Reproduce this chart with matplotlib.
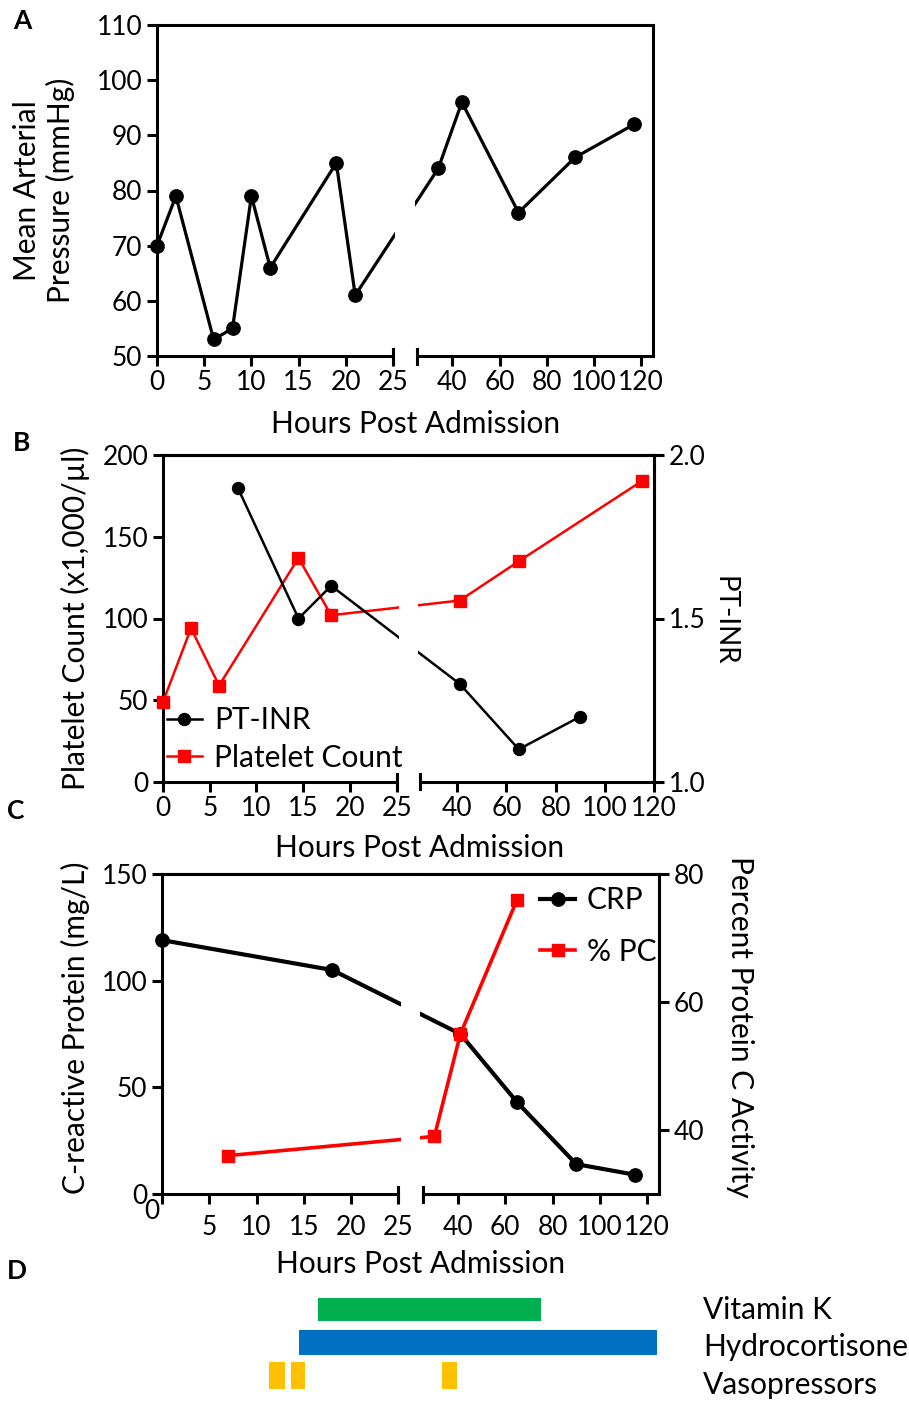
import numpy as np
import matplotlib
matplotlib.use("Agg")
import matplotlib.pyplot as plt
from matplotlib.patches import Rectangle
from matplotlib.transforms import ScaledTranslation

# ---------------- data ----------------
map_hours = [0, 2, 6, 8, 10, 12, 19, 21, 34, 44, 68, 92, 117]
map_mmhg = [70, 79, 53, 55, 79, 66, 85, 61, 84, 96, 76, 86, 92]

platelet_hours = [0, 3, 6, 14.5, 18, 41, 65, 115]
platelet_count = [49, 94, 59, 137, 102, 111, 135, 184]
inr_hours = [8, 14.5, 18, 41, 65, 90]
inr_values = [1.9, 1.5, 1.6, 1.3, 1.1, 1.2]

crp_hours = [0, 18, 41, 65, 90, 115]
crp_values = [119, 105, 75, 43, 14, 9]
pc_hours = [7, 30, 41, 65]
pc_values = [36, 39, 55, 76]

treatments = ["Vitamin K", "Hydrocortisone", "Vasopressors"]
treatment_spans = [
    [(16.5, 75)],
    [(14.5, 124)],
    [(11.3, 13.0), (13.6, 15.1), (33.4, 39.5)],
]

hour_ticks = [0, 5, 10, 15, 20, 25, 40, 60, 80, 100, 120]

# ---------------- style ----------------
plt.rcParams["font.family"] = ["Lato", "DejaVu Sans"]
FS = 21.5      # axis labels, legends, treatment names
TFS = 19       # tick labels
SPINE_LW = 2.2
RED = "#FF0000"
TREAT_COLORS = ["#00B050", "#0070C0", "#FFC000"]
BAR_HEIGHTS = [0.67, 0.73, 0.82]

W, H = 909, 1401
fig = plt.figure(figsize=(W / 100, H / 100), dpi=100)

GAP = 2.55  # width of the axis break, in left-segment hour units


def broken_scale(right_end):
    k = 25.0 / (right_end - 25.0)

    def fwd(x):
        x = np.asarray(x, dtype=float)
        return np.where(x <= 25, x, 25 + GAP + (x - 25) * k)

    def inv(t):
        t = np.asarray(t, dtype=float)
        return np.where(t <= 25, t,
                        np.where(t < 25 + GAP, 25.0, 25 + (t - 25 - GAP) / k))
    return fwd, inv


def px_axes(left, right, top, bottom):
    return fig.add_axes([left / W, 1 - bottom / H, (right - left) / W, (bottom - top) / H])


def setup_hours_axis(ax, right_end, top_ax=None, xpad=3):
    ax.set_xscale("function", functions=broken_scale(right_end))
    ax.set_xlim(0, right_end)
    ax.set_xticks(hour_ticks)
    ax.set_xticklabels([str(h) for h in hour_ticks])
    for sp in ax.spines.values():
        sp.set_linewidth(SPINE_LW)
    ax.spines["bottom"].set_visible(False)
    ax.tick_params(direction="out", length=7, width=SPINE_LW, labelsize=TFS, pad=3.5)
    ax.tick_params(axis="x", pad=xpad)

    total = 50 + GAP
    f1, f2 = 25 / total, (25 + GAP) / total
    tr = ax.transAxes
    h_px = ax.get_position().height * H
    w_px = ax.get_position().width * W
    cap = 7.5 / h_px
    kw = dict(transform=tr, color="black", lw=SPINE_LW, clip_on=False,
              solid_capstyle="projecting", zorder=4)
    ax.plot([0, f1], [0, 0], **kw)
    ax.plot([f2, 1], [0, 0], **kw)
    ax.plot([f1, f1], [-cap, cap], **kw)
    ax.plot([f2, f2], [-cap, cap], **kw)

    # blank out data lines inside the break
    tgt = top_ax if top_ax is not None else ax
    m = 2.5 / w_px
    tgt.add_patch(Rectangle((f1 + m, 0), (f2 - f1) - 2 * m, 1, transform=tgt.transAxes,
                            facecolor="white", edgecolor="none", zorder=3.5))
    tgt.spines["top"].set_zorder(4)


def style_label(lbl, rotation=90, size=FS):
    lbl.set_rotation(rotation)
    lbl.set_va("center")
    lbl.set_ha("center")
    lbl.set_fontsize(size)


def style_right_axis(ax2):
    ax2.spines["left"].set_visible(False)
    ax2.spines["bottom"].set_visible(False)
    for sp in ax2.spines.values():
        sp.set_linewidth(SPINE_LW)
    ax2.tick_params(direction="out", length=7, width=SPINE_LW, labelsize=TFS, pad=3.5)


# ---------------- Panel A ----------------
axA = px_axes(157, 653, 25, 356)
axA.plot(map_hours, map_mmhg, color="black", lw=2.3, marker="o", ms=9.6,
         clip_on=False, zorder=3)
setup_hours_axis(axA, 125)
axA.set_ylim(50, 110)
axA.set_yticks(range(50, 111, 10))
axA.set_xlabel("Hours Post Admission", fontsize=FS)
axA.xaxis.set_label_coords(0.522, -0.205)
axA.xaxis.label.set_va("center")
axA.set_ylabel("Mean Arterial\nPressure (mmHg)", fontsize=FS, linespacing=1.22)
style_label(axA.yaxis.label)
axA.yaxis.set_label_coords(-0.228, 0.5)

# ---------------- Panel B ----------------
axB = px_axes(163, 654, 455, 782)
axB2 = axB.twinx()
lp, = axB.plot(platelet_hours, platelet_count, color=RED, lw=1.8, marker="s", ms=8.6,
               clip_on=False, zorder=3, label="Platelet Count")
li, = axB2.plot(inr_hours, inr_values, color="black", lw=1.8, marker="o", ms=8.6,
                clip_on=False, zorder=3, label="PT-INR")
setup_hours_axis(axB, 120, top_ax=axB2)
axB.set_ylim(0, 200)
axB.set_yticks([0, 50, 100, 150, 200])
axB2.set_ylim(1.0, 2.0)
axB2.set_yticks([1.0, 1.5, 2.0])
axB2.set_yticklabels(["1.0", "1.5", "2.0"])
style_right_axis(axB2)
axB.set_xlabel("Hours Post Admission", fontsize=FS)
axB.xaxis.set_label_coords(0.523, -0.202)
axB.xaxis.label.set_va("center")
axB.set_ylabel("Platelet Count (x1,000/\u00b5l)", fontsize=FS)
style_label(axB.yaxis.label)
axB.yaxis.set_label_coords(-0.179, 0.502)
axB2.set_ylabel("PT-INR", fontsize=20)
style_label(axB2.yaxis.label, rotation=-90, size=20)
axB2.yaxis.set_label_coords(1.143, 0.492)
axB2.legend([li, lp], ["PT-INR", "Platelet Count"], loc="upper left",
            bbox_to_anchor=(0.008, 0.232), frameon=False, fontsize=FS,
            handlelength=1.17, handletextpad=0.42, labelspacing=0.32,
            borderpad=0, borderaxespad=0)

# ---------------- Panel C ----------------
axC = px_axes(162, 659, 874, 1194)
axC2 = axC.twinx()
lc, = axC.plot(crp_hours, crp_values, color="black", lw=3.0, marker="o", ms=9.6,
               clip_on=False, zorder=3, label="CRP")
lpc, = axC2.plot(pc_hours, pc_values, color=RED, lw=2.6, marker="s", ms=8.9,
                 clip_on=False, zorder=3, label="% PC")
setup_hours_axis(axC, 125, top_ax=axC2, xpad=8)
axC.set_ylim(0, 150)
axC.set_yticks([0, 50, 100, 150])
axC2.set_ylim(30, 80)
axC2.set_yticks([40, 60, 80])
style_right_axis(axC2)
# the zero hour label sits tucked into the corner
zero_lbl = axC.xaxis.get_majorticklabels()[0]
zero_lbl.set_transform(zero_lbl.get_transform() +
                       ScaledTranslation(-0.10, 0.16, fig.dpi_scale_trans))
axC.set_xlabel("Hours Post Admission", fontsize=FS)
axC.xaxis.set_label_coords(0.521, -0.219)
axC.xaxis.label.set_va("center")
axC.set_ylabel("C-reactive Protein (mg/L)", fontsize=FS)
style_label(axC.yaxis.label)
axC.yaxis.set_label_coords(-0.175, 0.519)
axC2.set_ylabel("Percent Protein C Activity", fontsize=FS)
style_label(axC2.yaxis.label, rotation=-90)
axC2.yaxis.set_label_coords(1.163, 0.522)
axC2.legend([lc, lpc], ["CRP", "% PC"], loc="upper left",
            bbox_to_anchor=(0.761, 0.9625), frameon=False, fontsize=FS,
            handlelength=1.17, handletextpad=0.38, labelspacing=0.79,
            borderpad=0, borderaxespad=0)

# ---------------- Panel D ----------------
axD = px_axes(162, 659, 1293, 1392)
axD.set_xscale("function", functions=broken_scale(125))
axD.set_xlim(0, 125)
axD.set_ylim(len(treatments) - 0.5, -0.5)
axD.axis("off")
for i, (name, spans) in enumerate(zip(treatments, treatment_spans)):
    h = BAR_HEIGHTS[i]
    axD.broken_barh([(s, e - s) for s, e in spans], (i - h / 2, h),
                    facecolors=TREAT_COLORS[i], edgecolor="none")

label_y = [1310, 1347, 1385]
for name, y in zip(treatments, label_y):
    fig.text(703 / W, 1 - y / H, name, fontsize=FS, ha="left", va="center")

# ---------------- panel letters ----------------
for letter, (x, y) in zip("ABCD", [(22, 21), (22, 443), (16, 811), (17, 1271)]):
    fig.text(x / W, 1 - y / H, letter, fontsize=19, fontweight="bold",
             ha="center", va="center")

fig.savefig("out.png", dpi=100)
